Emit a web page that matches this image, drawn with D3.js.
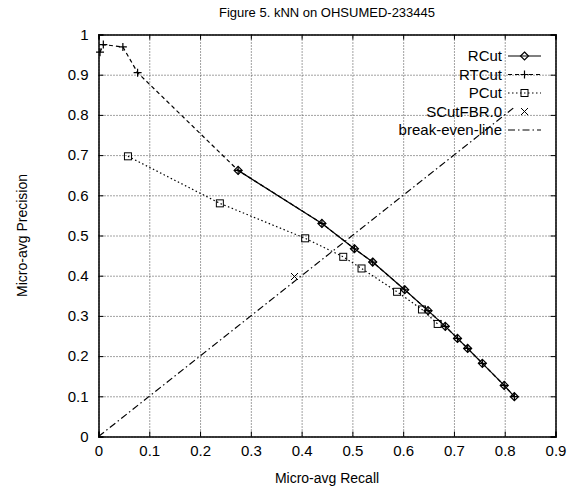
<!DOCTYPE html>
<html>
<head>
<meta charset="utf-8">
<script src="https://cdn.jsdelivr.net/npm/d3@7"></script>
<style>
  body { margin: 0; background: #fff; }
  svg { font-family: "Liberation Sans", Arial, sans-serif; }
</style>
</head>
<body>
<svg id="chart"></svg>
<script>
// values
const xTicks = [0, 0.1, 0.2, 0.3, 0.4, 0.5, 0.6, 0.7, 0.8, 0.9];
const yTicks = [0, 0.1, 0.2, 0.3, 0.4, 0.5, 0.6, 0.7, 0.8, 0.9, 1];

const rcutRecall    = [0.275, 0.44, 0.504, 0.54, 0.603, 0.649, 0.683, 0.707, 0.727, 0.756, 0.799, 0.819];
const rcutPrecision = [0.662, 0.53, 0.467, 0.434, 0.365, 0.313, 0.274, 0.244, 0.219, 0.182, 0.127, 0.099];

const rtcutRecall    = [0.003, 0.0095, 0.048, 0.077, 0.275, 0.44, 0.504, 0.54, 0.603, 0.649, 0.683, 0.707, 0.727, 0.756, 0.799, 0.819];
const rtcutPrecision = [0.956, 0.975, 0.969, 0.905, 0.662, 0.53, 0.467, 0.434, 0.365, 0.313, 0.274, 0.244, 0.219, 0.182, 0.127, 0.099];

const pcutRecall    = [0.058, 0.239, 0.407, 0.482, 0.518, 0.588, 0.637, 0.668];
const pcutPrecision = [0.697, 0.58, 0.493, 0.447, 0.418, 0.36, 0.316, 0.28];

const scutRecall    = [0.386];
const scutPrecision = [0.398];

const breakEven = [0, 0.82];

const seriesNames = ["RCut", "RTCut", "PCut", "SCutFBR.0", "break-even-line"];

const zip = (xs, ys) => xs.map((x, i) => ({x: x, y: ys[i]}));

const margin = {top: 34.5, right: 22.5, bottom: 49.5, left: 98.5};
const W = 578, H = 486;
const width = W - margin.left - margin.right;
const height = H - margin.top - margin.bottom;

const svg = d3.select("#chart").attr("width", W).attr("height", H);
const g = svg.append("g").attr("transform", "translate(" + margin.left + "," + margin.top + ")");

const x = d3.scaleLinear().domain([0, 0.9]).range([0, width]);
const y = d3.scaleLinear().domain([0, 1]).range([height, 0]);

// grid
g.append("g")
    .attr("class", "grid")
    .attr("transform", "translate(0," + height + ")")
    .call(d3.axisBottom(x).tickValues(xTicks).tickSize(-height).tickFormat(""));
g.append("g")
    .attr("class", "grid")
    .call(d3.axisLeft(y).tickValues(yTicks).tickSize(-width).tickFormat(""));
g.selectAll(".grid .domain").remove();
g.selectAll(".grid line")
    .attr("stroke", "#444")
    .attr("stroke-width", 1)
    .attr("stroke-dasharray", "1,2");

// axes with inward ticks, mirrored
g.append("g")
    .attr("transform", "translate(0," + height + ")")
    .call(d3.axisBottom(x).tickValues(xTicks).tickSize(-5).tickPadding(9).tickFormat(d => d));
g.append("g")
    .call(d3.axisLeft(y).tickValues(yTicks).tickSize(-5).tickPadding(10).tickFormat(d => d));
g.append("g")
    .call(d3.axisTop(x).tickValues(xTicks).tickSize(-5).tickFormat(""));
g.append("g")
    .attr("transform", "translate(" + width + ",0)")
    .call(d3.axisRight(y).tickValues(yTicks).tickSize(-5).tickFormat(""));

g.selectAll(".domain").attr("stroke", "#000").attr("stroke-width", 1.5);
g.selectAll(".tick line").filter(function () { return !this.closest(".grid"); })
    .attr("stroke", "#000").attr("stroke-width", 1);
g.selectAll(".tick text").attr("font-size", "15px").attr("fill", "#000")
    .attr("font-family", "'Liberation Sans', Arial, sans-serif");

// titles
svg.append("text")
    .attr("x", margin.left + width / 2)
    .attr("y", 17)
    .attr("text-anchor", "middle")
    .attr("font-size", "13px")
    .text("Figure 5. kNN on OHSUMED-233445");
svg.append("text")
    .attr("x", margin.left + width / 2)
    .attr("y", 483)
    .attr("text-anchor", "middle")
    .attr("font-size", "14px")
    .text("Micro-avg Recall");
svg.append("text")
    .attr("transform", "translate(27," + (margin.top + height / 2) + ") rotate(-90)")
    .attr("text-anchor", "middle")
    .attr("font-size", "14px")
    .text("Micro-avg Precision");

// series
const line = d3.line().x(d => x(d.x)).y(d => y(d.y));

const styles = [
    {dash: null, marker: "diamond"},
    {dash: "4,3", marker: "plus"},
    {dash: "1.5,2.5", marker: "square"},
    {dash: null, marker: "cross", noLine: true},
    {dash: "7,3,1.5,3", marker: null}
];

function drawMarker(sel, type, cx, cy) {
    if (type === "diamond") {
        sel.append("path").attr("d", "M" + cx + "," + (cy - 4) + "L" + (cx + 4) + "," + cy + "L" + cx + "," + (cy + 4) + "L" + (cx - 4) + "," + cy + "Z")
            .attr("fill", "none").attr("stroke", "#000").attr("stroke-width", 1.2);
    } else if (type === "plus") {
        sel.append("path").attr("d", "M" + (cx - 4) + "," + cy + "H" + (cx + 4) + "M" + cx + "," + (cy - 4) + "V" + (cy + 4))
            .attr("stroke", "#000").attr("stroke-width", 1.2);
    } else if (type === "square") {
        sel.append("rect").attr("x", cx - 3.5).attr("y", cy - 3.5).attr("width", 7).attr("height", 7)
            .attr("fill", "none").attr("stroke", "#000").attr("stroke-width", 1);
    } else if (type === "cross") {
        sel.append("path").attr("d", "M" + (cx - 3.5) + "," + (cy - 3.5) + "L" + (cx + 3.5) + "," + (cy + 3.5) + "M" + (cx + 3.5) + "," + (cy - 3.5) + "L" + (cx - 3.5) + "," + (cy + 3.5))
            .attr("stroke", "#000").attr("stroke-width", 1);
    }
}

const seriesData = [
    zip(rcutRecall, rcutPrecision),
    zip(rtcutRecall, rtcutPrecision),
    zip(pcutRecall, pcutPrecision),
    zip(scutRecall, scutPrecision),
    zip(breakEven, breakEven)
];

seriesData.forEach((data, i) => {
    const s = styles[i];
    const sg = g.append("g");
    if (!s.noLine) {
        sg.append("path").datum(data)
            .attr("d", line)
            .attr("fill", "none")
            .attr("stroke", "#000")
            .attr("stroke-width", 1.2)
            .attr("stroke-dasharray", s.dash);
    }
    if (s.marker) {
        data.forEach(d => drawMarker(sg, s.marker, x(d.x), y(d.y)));
    }
});

// legend
const legend = svg.append("g");
seriesNames.forEach((name, i) => {
    const ly = 56 + i * 18.5;
    const s = styles[i];
    legend.append("text")
        .attr("x", 502)
        .attr("y", ly + 5)
        .attr("text-anchor", "end")
        .attr("font-size", "15px")
        .text(name);
    if (!s.noLine) {
        legend.append("line")
            .attr("x1", 508).attr("x2", 541)
            .attr("y1", ly).attr("y2", ly)
            .attr("stroke", "#000").attr("stroke-width", 1.2)
            .attr("stroke-dasharray", s.dash);
    }
    if (s.marker) drawMarker(legend, s.marker, 524.5, ly);
});
</script>
</body>
</html>
